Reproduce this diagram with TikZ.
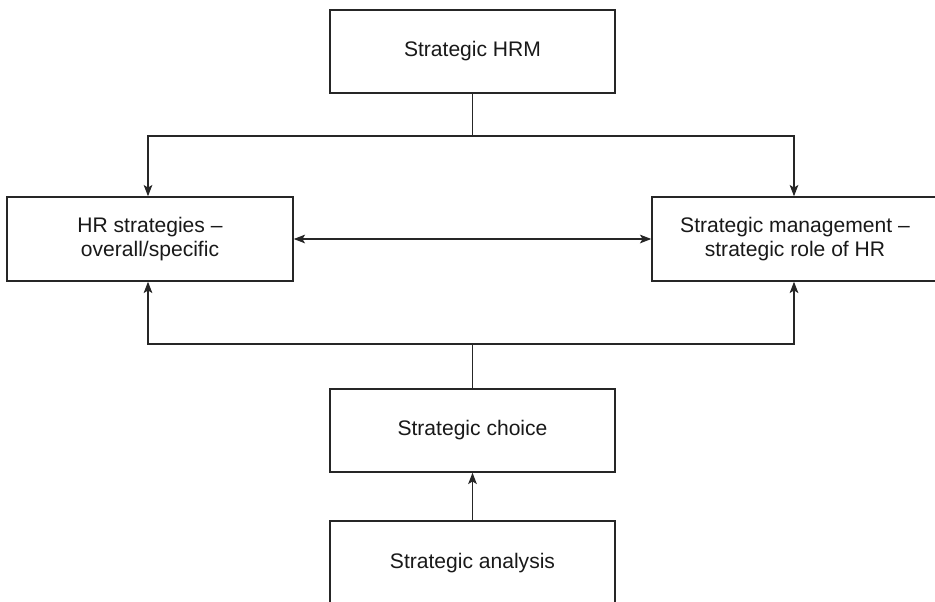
\documentclass[tikz,border=0pt]{standalone}
\usepackage{fontspec}
\setmainfont{Liberation Sans}
\usetikzlibrary{arrows.meta}
\begin{document}
\begin{tikzpicture}[x=0.75pt,y=-0.75pt,
  box/.style={draw=black!85, line width=1.1pt, inner sep=0pt, align=center,
    font=\fontsize{15.8}{18.6}\selectfont, text=black!90},
  conn/.style={draw=black!85, line width=0.8pt},
  tipstyle/.style={Stealth[length=8.5pt,width=6.5pt,inset=2pt]},
  tip/.style={-{Stealth[length=8.5pt,width=6.5pt,inset=2pt]}}]
\useasboundingbox (0,0) rectangle (935,601);
\fill[white] (0,0) rectangle (935,601);
\node[box, minimum width=213.75pt, minimum height=62.25pt] (hrm) at (472.5,51.5) {Strategic HRM};
\node[box, minimum width=214.5pt, minimum height=63pt] (hrs) at (150,239) {HR strategies --\\overall/specific};
\node[box, minimum width=214.5pt, minimum height=63pt] (sm) at (795,239) {Strategic management --\\strategic role of HR\hspace{1.5pt}};
\node[box, minimum width=213.75pt, minimum height=62.25pt] (sc) at (472.5,430.5) {Strategic choice};
\node[box, minimum width=213.75pt, minimum height=63pt] (sa) at (472.5,563) {Strategic analysis};
\coordinate (tj) at (472.5,136);
\coordinate (bj) at (472.5,344);
\draw[conn] (hrm.south) -- (tj);
\draw[conn,tip] (tj) -| ([xshift=-1.5pt]hrs.north);
\draw[conn,tip] (tj) -| ([xshift=-0.75pt]sm.north);
\draw[conn,{Stealth[length=8.5pt,width=6.5pt,inset=2pt]}-{Stealth[length=8.5pt,width=6.5pt,inset=2pt]}] (hrs.east) -- (sm.west);
\draw[conn] (sc.north) -- (bj);
\draw[conn,tip] (bj) -| ([xshift=-1.5pt]hrs.south);
\draw[conn,tip] (bj) -| ([xshift=-0.75pt]sm.south);
\draw[conn,tip] (sa.north) -- (sc.south);
\end{tikzpicture}
\end{document}
